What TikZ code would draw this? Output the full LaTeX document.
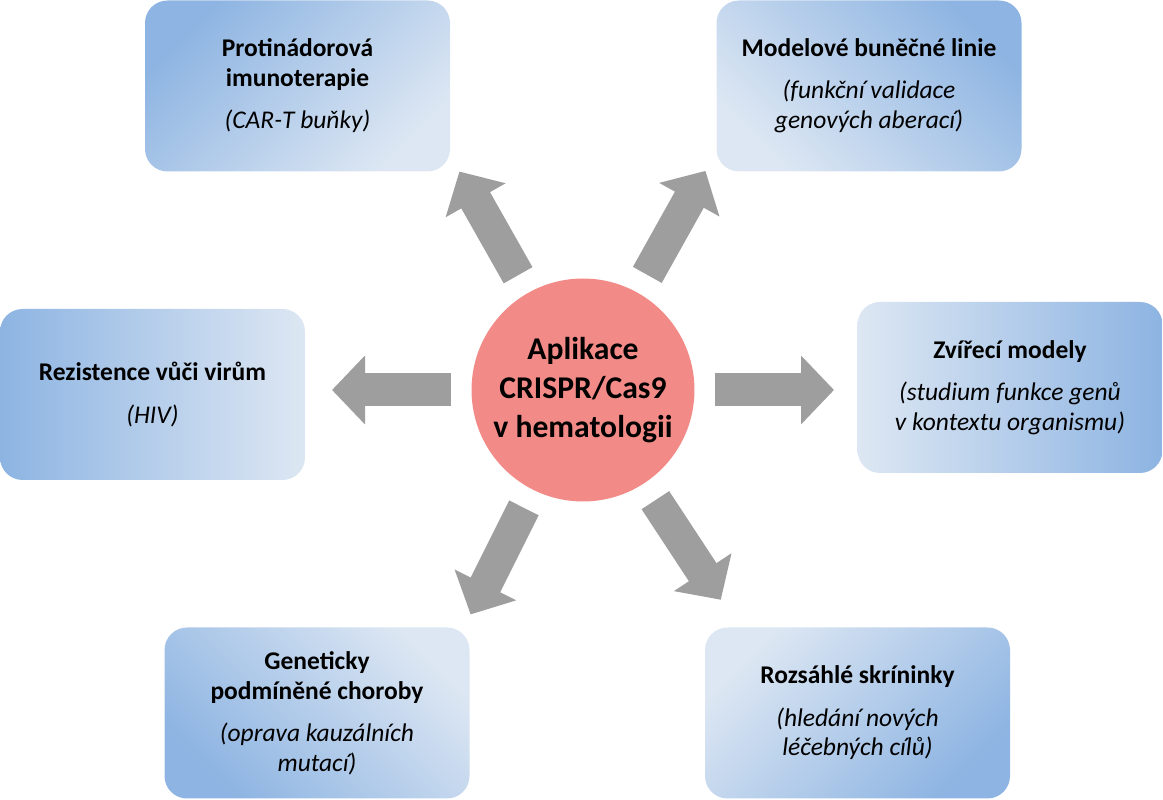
\documentclass[tikz,border=0pt]{standalone}
\usepackage{fontspec}
\setmainfont{Carlito}
\usetikzlibrary{arrows.meta, calc}

\definecolor{hubred}{RGB}{242,139,135}
\definecolor{arrowgray}{RGB}{158,158,158}
\definecolor{boxdark}{RGB}{141,180,226}
\definecolor{boxlight}{RGB}{221,231,243}

\begin{document}
\begin{tikzpicture}[> = {Triangle[length = 0.66cm, width = 1.34cm]},
	box/.style = {rounded corners = 0.45cm, minimum width = 6.1cm, minimum height = 3.42cm, align = center, font = \fontsize{14.5}{17}\selectfont, top color = boxdark, bottom color = boxlight, shading angle = #1},
	core/.style = {circle, fill = hubred, minimum size = 4.44cm, align = center, font = \fontsize{18}{22}\selectfont\bfseries},
	bigarrow/.style = {->, draw = arrowgray, line width = 0.66cm, shorten <= 0.4cm}]

	\useasboundingbox (0, 0) rectangle (23.26, 16);

	% Centre
	
	\node [core] (hub) at (11.66, 8.2) {Aplikace\\CRISPR/Cas9\\v hematologii};
	
	% Boxes
	
	\node [box = 45] (tl) at (5.95, 14.28) {\textbf{Protinádorová}\\\textbf{imunoterapie}\\[7pt]\textit{(CAR-T buňky)}};
	\node [box = -45] (tr) at (17.38, 14.28) {\textbf{Modelové buněčné linie}\\[7pt]\textit{(funkční validace}\\\textit{genových aberací)}};
	\node [box = 90] (l) at (3.05, 8.11) {\textbf{Rezistence vůči virům}\\[7pt]\textit{(HIV)}};
	\node [box = -90] (r) at (20.2, 8.25) {\textbf{Zvířecí modely}\\[7pt]\textit{(studium funkce genů}\\\textit{v kontextu organismu)}};
	\node [box = 135] (bl) at (6.34, 1.74) {\textbf{Geneticky}\\\textbf{podmíněné choroby}\\[7pt]\textit{(oprava kauzálních}\\\textit{mutací)}};
	\node [box = -135] (br) at (17.15, 1.74) {\textbf{Rozsáhlé skríninky}\\[7pt]\textit{(hledání nových}\\\textit{léčebných cílů)}};
	
	% Arrows
	
	\foreach \ang/\tip in {180/tipl, 0/tipr, 119.5/tiptl, 60.8/tiptr, 243.4/tipbl, 303.3/tipbr}
		\coordinate (\tip) at ($(hub) + (\ang:5.02)$);
	
	\foreach \tip in {tipl, tipr, tiptl, tiptr, tipbl, tipbr}
		\draw [bigarrow] (hub) -- (\tip);

\end{tikzpicture}
\end{document}
